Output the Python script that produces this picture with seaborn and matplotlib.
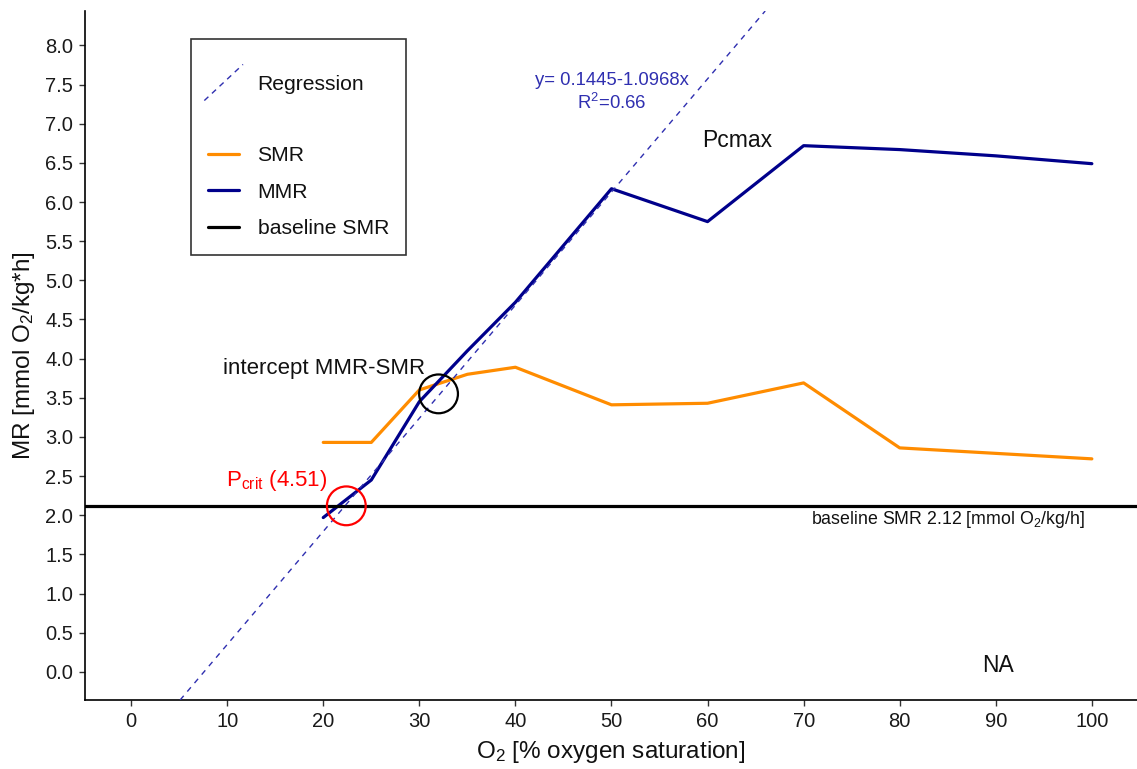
import matplotlib
matplotlib.use("Agg")
import matplotlib.pyplot as plt
import seaborn as sns
import pandas as pd
from matplotlib.lines import Line2D
from matplotlib.legend_handler import HandlerBase

# ---- data ----
o2_levels = [20, 25, 30, 35, 40, 50, 60, 70, 80, 90, 100]
smr_values = [2.93, 2.93, 3.60, 3.80, 3.89, 3.41, 3.43, 3.69, 2.86, 2.79, 2.72]
mmr_values = [1.97, 2.45, 3.45, 4.10, 4.72, 6.17, 5.75, 6.72, 6.67, 6.59, 6.49]
reg_slope = 0.1445
reg_intercept = -1.0968
baseline_smr = 2.12
pcrit_xy = (22.4, 2.12)
intercept_xy = (32.0, 3.55)
x_ticks = [0, 10, 20, 30, 40, 50, 60, 70, 80, 90, 100]
y_ticks = [0.0, 0.5, 1.0, 1.5, 2.0, 2.5, 3.0, 3.5, 4.0, 4.5, 5.0, 5.5, 6.0, 6.5, 7.0, 7.5, 8.0]

ORANGE = "#FF8C00"
NAVY = "#00008B"
REGC = "#2F2FB0"
TXT = "#111111"

sns.set_style("ticks")
plt.rcParams['font.family'] = ['Liberation Sans', 'DejaVu Sans']
plt.rcParams['mathtext.default'] = 'regular'

fig = plt.figure(figsize=(11.37, 7.69), dpi=100)
ax = fig.add_axes([85 / 1137, 69 / 769, 1052 / 1137, 689 / 769])

df = pd.DataFrame({
    'O2': o2_levels * 2,
    'MR': smr_values + mmr_values,
    'series': ['SMR'] * len(o2_levels) + ['MMR'] * len(o2_levels),
})
sns.lineplot(data=df, x='O2', y='MR', hue='series',
             palette={'SMR': ORANGE, 'MMR': NAVY}, linewidth=2.3,
             ax=ax, legend=False, sort=False)

ax.axline((0, reg_intercept), slope=reg_slope, color=REGC, lw=1.0,
          dashes=(4, 4), zorder=3)
ax.axhline(baseline_smr, color='black', lw=2.3, zorder=2)

ax.scatter([pcrit_xy[0]], [pcrit_xy[1]], s=780, facecolors='none',
           edgecolors='red', linewidths=1.6, zorder=5)
ax.scatter([intercept_xy[0]], [intercept_xy[1]], s=780, facecolors='none',
           edgecolors='black', linewidths=1.6, zorder=5)

ax.text(15.2, 2.37, 'P$_{crit}$ (4.51)', color='red', fontsize=16,
        ha='center', va='baseline')
ax.text(20.1, 3.80, 'intercept MMR-SMR', color=TXT, fontsize=16,
        ha='center', va='baseline')
ax.text(63.1, 6.70, 'Pcmax', color=TXT, fontsize=16.5,
        ha='center', va='baseline')
ax.text(90.2, 0.0, 'NA', color=TXT, fontsize=16.5,
        ha='center', va='baseline')
ax.text(50.0, 7.50, 'y= 0.1445-1.0968x', color=REGC, fontsize=13.3,
        ha='center', va='baseline')
ax.text(50.0, 7.19, 'R$^2$=0.66', color=REGC, fontsize=13.3,
        ha='center', va='baseline')
ax.text(85.0, 1.89, 'baseline SMR 2.12 [mmol O$_2$/kg/h]', color=TXT,
        fontsize=12.8, ha='center', va='baseline')

ax.set_xlim(-4.8, 104.7)
ax.set_ylim(-0.36, 8.44)
ax.set_xticks(x_ticks)
ax.set_yticks(y_ticks)
ax.set_yticklabels([f"{v:.1f}" for v in y_ticks])
ax.tick_params(direction='out', length=4.3, width=1, color='#333333',
               labelsize=14.5, labelcolor='#1a1a1a', pad=4.3)
sns.despine(ax=ax)
for s in ['left', 'bottom']:
    ax.spines[s].set_color('black')
    ax.spines[s].set_linewidth(1.2)

ax.set_xlabel('O$_2$ [% oxygen saturation]', fontsize=17.5, color=TXT,
              labelpad=6)
ax.set_ylabel('MR [mmol O$_2$/kg*h]', fontsize=17.5, color=TXT,
              labelpad=6)


class DiagHandler(HandlerBase):
    def create_artists(self, legend, orig_handle, xdescent, ydescent,
                       width, height, fontsize, trans):
        x0 = -xdescent
        cy = -ydescent + height / 2
        ln = Line2D([x0 - 2.9, x0 + width + 2.9], [cy - 13, cy + 13],
                    color=REGC, lw=1.0, dashes=(4, 3.5))
        ln.set_transform(trans)
        return [ln]


reg_h = Line2D([], [], color=REGC, lw=1.0)
blank_h = Line2D([], [], alpha=0)
smr_h = Line2D([], [], color=ORANGE, lw=2.3)
mmr_h = Line2D([], [], color=NAVY, lw=2.3)
base_h = Line2D([], [], color='black', lw=2.3)

leg = ax.legend([reg_h, blank_h, smr_h, mmr_h, base_h],
                ['Regression', ' ', 'SMR', 'MMR', 'baseline SMR'],
                handler_map={reg_h: DiagHandler()},
                loc='upper left', bbox_to_anchor=(0.1008, 0.959),
                borderaxespad=0, fontsize=15.2, frameon=True, fancybox=False,
                handlelength=1.45, labelspacing=0.82, borderpad=0.82,
                handletextpad=0.88, title=' ', title_fontsize=1)
leg.get_texts()[1].set_fontsize(9.5)
leg.get_frame().set_edgecolor('black')
leg.get_frame().set_linewidth(1.2)
for t in leg.get_texts():
    t.set_color(TXT)

fig.savefig('out.png', dpi=100)
